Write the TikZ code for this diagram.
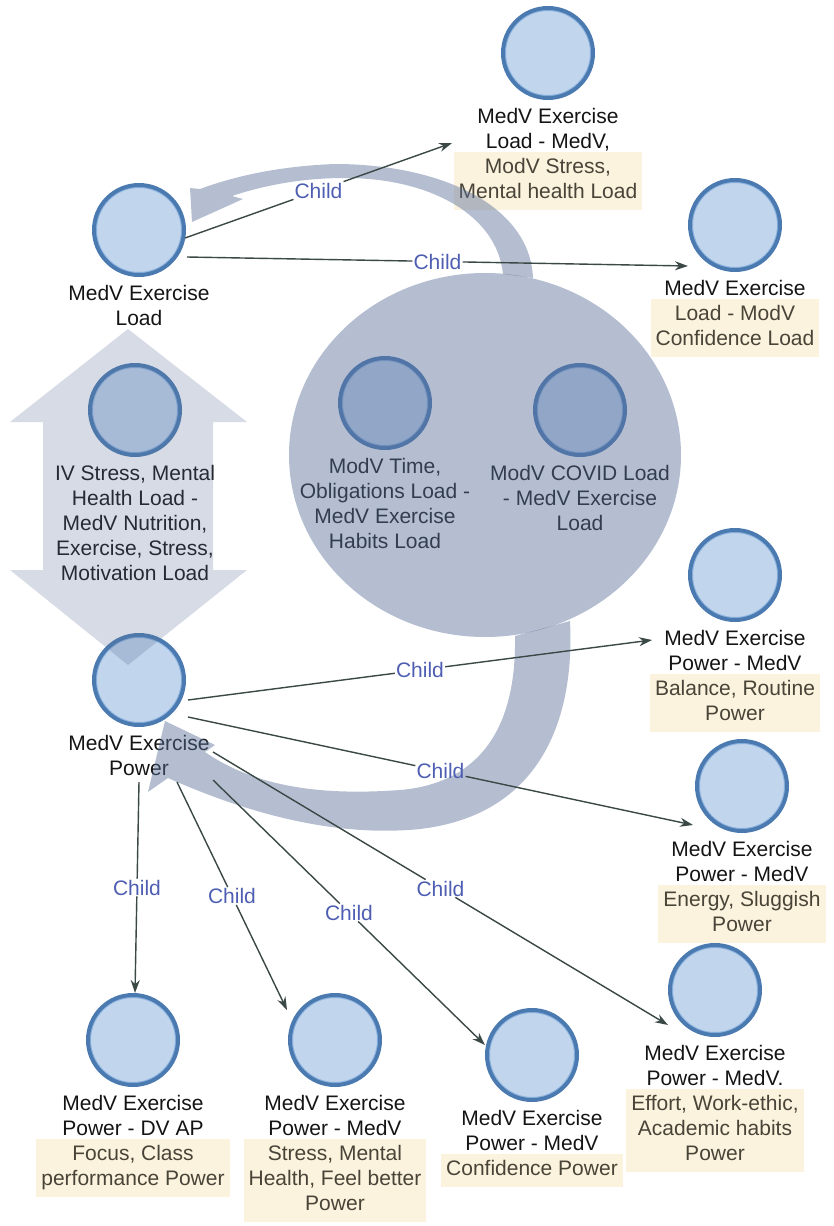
\documentclass[tikz,border=0pt]{standalone}
\usepackage{fontspec}
\setmainfont{Liberation Sans}
\usetikzlibrary{arrows.meta,calc,backgrounds}
\definecolor{ndline}{RGB}{74,122,176}
\definecolor{ndring}{RGB}{140,180,226}
\definecolor{ndfill}{RGB}{193,213,236}
\definecolor{shade}{RGB}{90,111,154}
\definecolor{cream}{RGB}{252,243,222}
\definecolor{edgec}{RGB}{58,72,70}
\definecolor{childc}{RGB}{78,94,178}
\definecolor{softtxt}{RGB}{72,68,56}
\newcommand{\lnstrut}{\rule[-7pt]{0pt}{25pt}}
\begin{document}
\begin{tikzpicture}[x=1pt,y=-1pt,
  nd/.style={circle,minimum size=90pt,inner sep=0pt,line width=4pt,draw=ndline,fill=ndfill,
    path picture={\draw[ndring,line width=1.2pt] (path picture bounding box.center) circle (42.6pt);}},
  txt/.style={anchor=north,align=center,inner sep=0pt,font=\fontsize{21}{25}\selectfont,text=black!92},
  soft/.style={anchor=north,align=center,inner xsep=5pt,inner ysep=4pt,yshift=4pt,fill=cream,font=\fontsize{21}{25}\selectfont,text=softtxt},
  child/.style={inner sep=1pt,font=\fontsize{21}{25}\selectfont,text=childc},
  link/.style={draw=edgec,line width=1.4pt},
  tip/.style={-{Stealth[length=13pt,width=9pt]}},
  veil/.style={fill=shade,fill opacity=0.45},
  ]
\useasboundingbox (0,0) rectangle (833,1226);

% ---- concept nodes ----
\node[nd] (L1) at (139,230) {};
\node[txt] (L1t) at ($(L1.south)+(0,5)$) {\lnstrut MedV Exercise\\\lnstrut Load};

\node[nd] (T) at (548,53) {};
\node[txt] (Tt) at ($(T.south)+(0,5)$) {\lnstrut MedV Exercise\\\lnstrut Load - MedV,};

\node[nd] (RC) at (735,225) {};
\node[txt] (RCt) at ($(RC.south)+(0,5)$) {\lnstrut MedV Exercise};

\node[nd] (IV) at (135,410) {};
\node[txt] (IVt) at ($(IV.south)+(0,5)$) {\lnstrut IV Stress, Mental\\\lnstrut Health Load -\\\lnstrut MedV Nutrition,\\\lnstrut Exercise, Stress,\\\lnstrut Motivation Load};

\node[nd] (M1) at (385,403) {};
\node[txt] (M1t) at ($(M1.south)+(0,5)$) {\lnstrut ModV Time,\\\lnstrut Obligations Load -\\\lnstrut MedV Exercise\\\lnstrut Habits Load};

\node[nd] (M2) at (580,410) {};
\node[txt] (M2t) at ($(M2.south)+(0,5)$) {\lnstrut ModV COVID Load\\\lnstrut - MedV Exercise\\\lnstrut Load};

\node[nd] (L2) at (139,680) {};
\node[txt] (L2t) at ($(L2.south)+(0,5)$) {\lnstrut MedV Exercise\\\lnstrut Power};

\node[nd] (RP1) at (735,575) {};
\node[txt] (RP1t) at ($(RP1.south)+(0,5)$) {\lnstrut MedV Exercise\\\lnstrut Power - MedV};

\node[nd] (RP2) at (742,786) {};
\node[txt] (RP2t) at ($(RP2.south)+(0,5)$) {\lnstrut MedV Exercise\\\lnstrut Power - MedV};

\node[nd] (RP3) at (715,990) {};
\node[txt] (RP3t) at ($(RP3.south)+(0,5)$) {\lnstrut MedV Exercise\\\lnstrut Power - MedV.};

\node[nd] (B1) at (133,1040) {};
\node[txt] (B1t) at ($(B1.south)+(0,5)$) {\lnstrut MedV Exercise\\\lnstrut Power - DV AP};

\node[nd] (B2) at (335,1040) {};
\node[txt] (B2t) at ($(B2.south)+(0,5)$) {\lnstrut MedV Exercise\\\lnstrut Power - MedV};

\node[nd] (B3) at (532,1055) {};
\node[txt] (B3t) at ($(B3.south)+(0,5)$) {\lnstrut MedV Exercise\\\lnstrut Power - MedV};

% ---- highlighted label parts ----
\begin{pgfonlayer}{background}
\node[soft] (Ts) at (Tt.south) {\lnstrut ModV Stress,\\\lnstrut Mental health Load};
\node[soft] (RCs) at (RCt.south) {\lnstrut Load - ModV\\\lnstrut Confidence Load};
\node[soft] (RP1s) at (RP1t.south) {\lnstrut Balance, Routine\\\lnstrut Power};
\node[soft] (RP2s) at (RP2t.south) {\lnstrut Energy, Sluggish\\\lnstrut Power};
\node[soft] (RP3s) at (RP3t.south) {\lnstrut Effort, Work-ethic,\\\lnstrut Academic habits\\\lnstrut Power};
\node[soft] (B1s) at (B1t.south) {\lnstrut Focus, Class\\\lnstrut performance Power};
\node[soft] (B2s) at (B2t.south) {\lnstrut Stress, Mental\\\lnstrut Health, Feel better\\\lnstrut Power};
\node[soft] (B3s) at (B3t.south) {\lnstrut Confidence Power};
\end{pgfonlayer}

% ---- translucent group shapes ----
\fill[veil] (485,455) ellipse [x radius=196pt, y radius=182pt];
\fill[fill=shade,fill opacity=0.25] (128,329) -- (247,422) -- (213,422) -- (213,570) -- (247,570)
  -- (128,665) -- (10,570) -- (43,570) -- (43,422) -- (10,422) -- cycle;
\fill[veil] (192,222) -- (190,188) -- (200,189)
  .. controls (235,176) and (280,166) .. (335,164)
  .. controls (440,164) and (530,205) .. (533,278)
  -- (503,274)
  .. controls (497,215) and (430,178) .. (345,178)
  .. controls (300,178) and (262,186) .. (232,196)
  -- (243,199) -- cycle;
\fill[veil] (165,721) -- (215,745) -- (205,752)
  .. controls (260,790) and (330,795) .. (400,790)
  .. controls (460,785) and (517,750) .. (515,636)
  -- (570,621)
  .. controls (575,720) and (540,815) .. (420,829)
  .. controls (330,838) and (240,810) .. (168,778)
  -- (148,792) -- cycle;

% ---- child links ----
\coordinate (s1) at ($(L1)+(46,8)$);   \coordinate (t1) at ($(T)+(-96,90)$);
\coordinate (s2) at ($(L1)+(48,27)$);  \coordinate (t2) at ($(RC)+(-47,41)$);
\coordinate (s3) at ($(L2)+(49,20)$);  \coordinate (t3) at ($(RP1)+(-83,65)$);
\coordinate (s4) at ($(L2)+(49,37)$);  \coordinate (t4) at ($(RP2)+(-49,39)$);
\coordinate (s5) at ($(L2)+(74,72)$);  \coordinate (t5) at ($(RP3)+(-47,35)$);
\coordinate (s6) at ($(L2)+(74,100)$); \coordinate (t6) at ($(B3)+(-47,-10)$);
\coordinate (s7) at ($(L2)+(38,102)$); \coordinate (t7) at ($(B2)+(-48,-30)$);
\coordinate (s8) at ($(L2)+(0,102)$);  \coordinate (t8) at ($(B1)+(2,-47)$);

\foreach \i in {1,...,8}{
  \path (s\i) -- node[child,pos=.5] (c\i) {Child} (t\i);
  \draw[link] (s\i) -- (c\i);
  \draw[link,tip] (c\i) -- (t\i);
}
\end{tikzpicture}
\end{document}
